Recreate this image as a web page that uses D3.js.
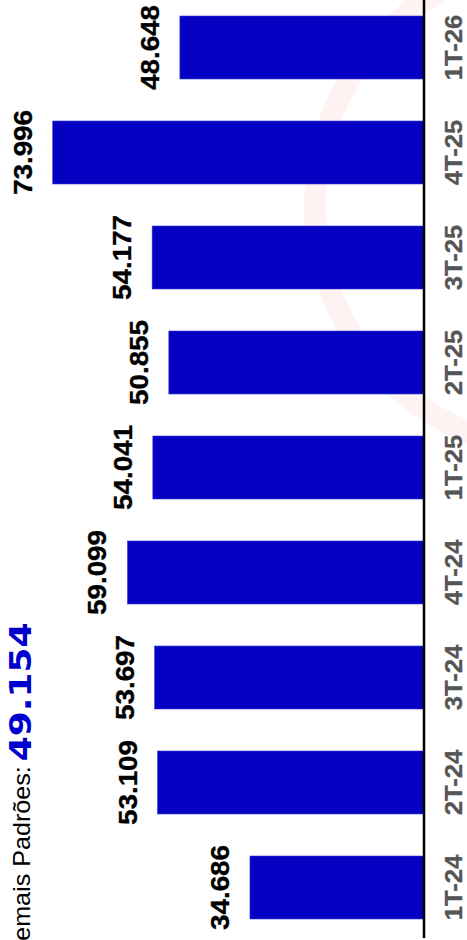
<!DOCTYPE html>
<html>
<head>
<meta charset="utf-8">
<script src="https://cdn.jsdelivr.net/npm/d3@7"></script>
<style>
html,body{margin:0;padding:0;background:#fff;overflow:hidden;}
svg{display:block;}
</style>
</head>
<body>
<svg id="chart" width="467" height="940"></svg>
<script>
const categories = ["1T-24","2T-24","3T-24","4T-24","1T-25","2T-25","3T-25","4T-25","1T-26"];
const values = [34.686, 53.109, 53.697, 59.099, 54.041, 50.855, 54.177, 73.996, 48.648];
const valueLabels = ["34.686","53.109","53.697","59.099","54.041","50.855","54.177","73.996","48.648"];
const titleLabel = "Demais Padrões: ";
const titleValue = "49.154";

const W = 467, H = 940;
const svg = d3.select("#chart");
const FONT = "Liberation Sans, Arial, sans-serif";
const STRETCH = 1.07;

// faint watermark ring
svg.append("circle")
  .attr("cx", 560).attr("cy", 205).attr("r", 245)
  .attr("fill", "none")
  .attr("stroke", "rgba(230,0,0,0.05)")
  .attr("stroke-width", 22);

const axisX = 424;
const y = d3.scaleBand().domain(categories).range([940, -5]).paddingInner(0.4).paddingOuter(0.2);
const x = d3.scaleLinear().domain([0, 84.5]).range([axisX, 0]);

const data = categories.map((c, i) => ({c, v: values[i], l: valueLabels[i]}));

svg.append("g").selectAll("rect").data(data).enter().append("rect")
  .attr("x", d => x(d.v))
  .attr("y", d => y(d.c))
  .attr("width", d => axisX - x(d.v))
  .attr("height", y.bandwidth())
  .attr("fill", "#0600c2")
  .attr("stroke", "#3a3ad0")
  .attr("stroke-width", 0.6);

// value labels
svg.append("g").selectAll("text").data(data).enter().append("text")
  .attr("transform", d => `translate(${x(d.v) - 21},${y(d.c) + y.bandwidth() / 2}) rotate(-90) scale(${STRETCH},1)`)
  .attr("text-anchor", "middle")
  .attr("font-family", FONT)
  .attr("font-weight", "bold")
  .attr("font-size", 26)
  .attr("fill", "#000")
  .attr("stroke", "#000")
  .attr("stroke-width", 0.35)
  .text(d => d.l);

// axis line
svg.append("line")
  .attr("x1", axisX).attr("x2", axisX)
  .attr("y1", -5).attr("y2", 938)
  .attr("stroke", "#000").attr("stroke-width", 2.5);

// category labels
svg.append("g").selectAll("text").data(data).enter().append("text")
  .attr("transform", d => `translate(462,${y(d.c) + y.bandwidth() / 2}) rotate(-90) scale(${STRETCH},1)`)
  .attr("text-anchor", "middle")
  .attr("font-family", FONT)
  .attr("font-weight", "bold")
  .attr("font-size", 24)
  .attr("fill", "#555")
  .attr("stroke", "#555")
  .attr("stroke-width", 0.3)
  .text(d => d.c);

// title
const startY = 959;
const t1 = svg.append("text")
  .attr("transform", `translate(30,${startY}) rotate(-90) scale(${STRETCH},1)`)
  .attr("font-family", FONT)
  .attr("font-size", 23.5)
  .attr("fill", "#000")
  .attr("xml:space", "preserve")
  .style("white-space", "pre")
  .text(titleLabel);
const len1 = t1.node().getComputedTextLength() * STRETCH;
svg.append("text")
  .attr("transform", `translate(31,${startY - len1 + 2}) rotate(-90) scale(1.2,1)`)
  .attr("font-family", "DejaVu Sans, sans-serif")
  .attr("font-size", 30)
  .attr("font-weight", "bold")
  .attr("fill", "#0000cc")
  .text(titleValue);
</script>
</body>
</html>
